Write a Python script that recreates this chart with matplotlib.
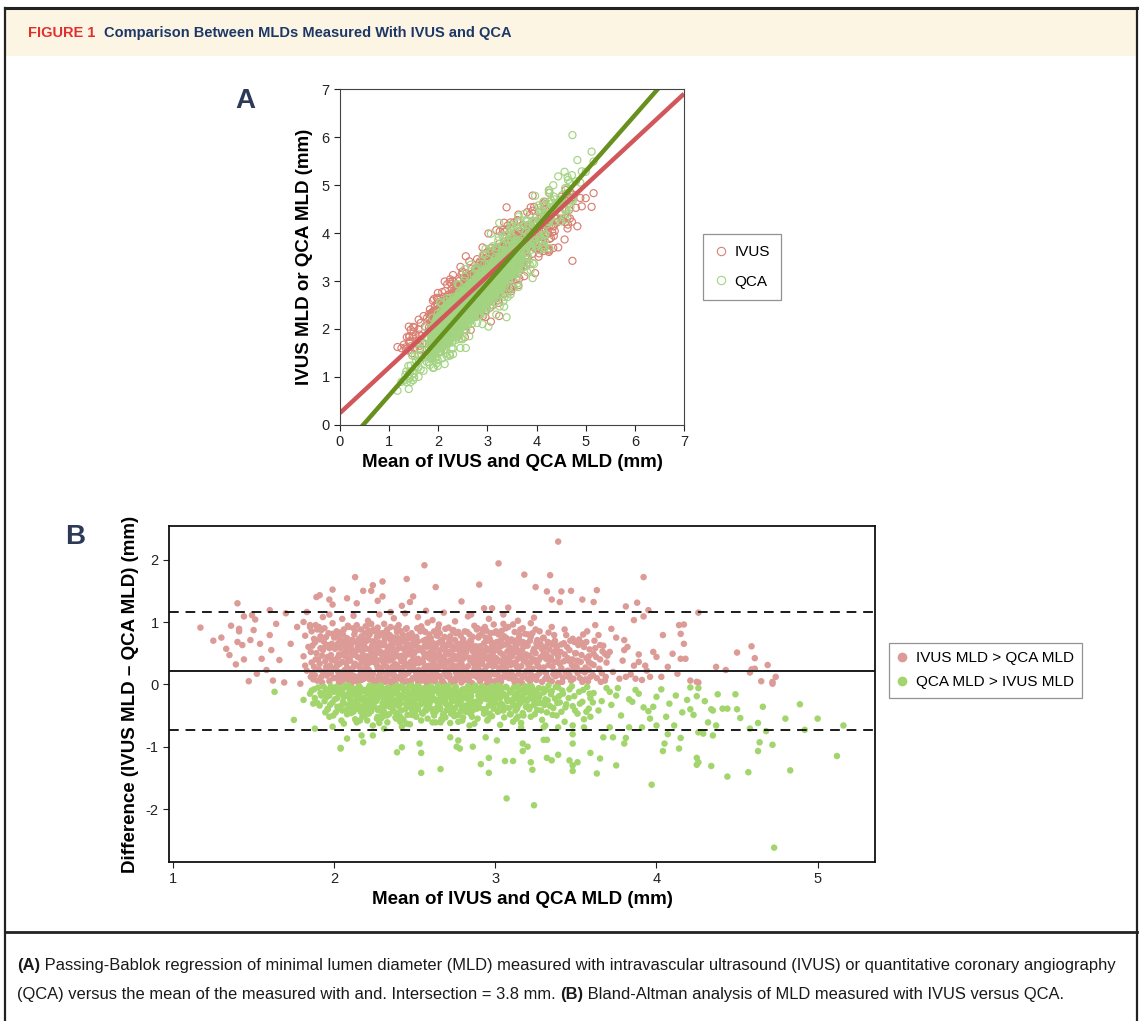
import numpy as np
import matplotlib
matplotlib.use("Agg")
import matplotlib.pyplot as plt
from matplotlib.lines import Line2D
from matplotlib.patches import Rectangle

# Bland-Altman points: "mean diff" pairs (mm)
# IVUS MLD > QCA MLD (diff > 0)
ivus_higher = """
1.81 .45 1.82 .78 1.83 .22 1.84 .60 1.85 .95 1.86 .35 1.87 .08 1.88 .67 1.89 .50 1.82 .30 1.86 .85 1.88 .15
1.90 .40 1.91 .72 1.92 .12 1.93 .55 1.94 .90 1.95 .28 1.96 .63 1.97 .05 1.98 .47 1.99 .81 1.91 .33 1.93 .20
1.95 .76 1.96 .44 1.97 .58 1.98 .18 1.99 .98 1.92 .87
2.00 .25 2.01 .62 2.02 .09 2.03 .48 2.04 .83 2.05 .36 2.06 .70 2.07 .15 2.08 .54 2.09 .92 2.00 .75 2.01 .40
2.02 .31 2.03 .02 2.04 .58 2.05 .19 2.06 .88 2.07 .45 2.08 .27 2.09 .66 2.02 .79 2.04 .12 2.06 .50 2.08 .74 2.09 .06
2.10 .38 2.11 .71 2.12 .14 2.13 .52 2.14 .95 2.15 .29 2.16 .64 2.17 .07 2.18 .46 2.19 .82 2.10 .20 2.11 .55
2.12 .90 2.13 .33 2.14 .68 2.15 .04 2.16 .42 2.17 .77 2.18 .24 2.19 .59 2.11 .10 2.13 .86 2.15 .61 2.17 .35
2.19 .16 2.12 .48 2.16 .27 2.18 .72
2.20 .57 2.21 .13 2.22 .80 2.23 .36 2.24 .69 2.25 .03 2.26 .49 2.27 .91 2.28 .22 2.29 .63 2.20 .30 2.21 .74
2.22 .08 2.23 .52 2.24 .17 2.25 .85 2.26 .40 2.27 .26 2.28 .67 2.29 .11 2.20 .93 2.22 .44 2.24 .60 2.26 .06
2.28 .78 2.21 .33 2.23 .97 2.25 .50 2.27 .58 2.29 .39
2.30 .19 2.31 .66 2.32 .41 2.33 .88 2.34 .05 2.35 .54 2.36 .28 2.37 .75 2.38 .12 2.39 .47 2.30 .82 2.31 .35
2.32 .09 2.33 .60 2.34 .23 2.35 .92 2.36 .45 2.37 .16 2.38 .70 2.39 .31 2.30 .50 2.32 .77 2.34 .38 2.36 .62
2.38 .02 2.31 .97 2.33 .14 2.35 .71 2.37 .43 2.39 .84
2.40 .26 2.41 .59 2.42 .07 2.43 .73 2.44 .34 2.45 .90 2.46 .18 2.47 .51 2.48 .82 2.49 .40 2.40 .64 2.41 .13
2.42 .46 2.43 .03 2.44 .68 2.45 .29 2.46 .79 2.47 .22 2.48 .56 2.49 .10 2.40 .95 2.42 .37 2.44 .15 2.46 .48
2.48 .31 2.41 .86 2.43 .57 2.45 .62 2.47 .74 2.49 .66
2.50 .33 2.51 .76 2.52 .04 2.53 .58 2.54 .21 2.55 .87 2.56 .44 2.57 .12 2.58 .65 2.59 .30 2.50 .52 2.51 .17
2.52 .69 2.53 .38 2.54 .93 2.55 .08 2.56 .61 2.57 .47 2.58 .24 2.59 .80 2.50 .11 2.52 .41 2.54 .55 2.56 .27
2.58 .99 2.51 .62 2.53 .14 2.55 .36 2.57 .72 2.59 .50
2.60 .20 2.61 .53 2.62 .85 2.63 .10 2.64 .42 2.65 .67 2.66 .31 2.67 .06 2.68 .58 2.69 .89 2.60 .74 2.61 .25
2.62 .46 2.63 .61 2.64 .15 2.65 .96 2.66 .39 2.67 .70 2.68 .02 2.69 .34 2.60 .44 2.62 .16 2.64 .78 2.66 .55
2.68 .28 2.61 .09 2.65 .49 2.69 .63
2.70 .13 2.71 .48 2.72 .77 2.73 .26 2.74 .59 2.75 .05 2.76 .40 2.77 .84 2.78 .18 2.79 .66 2.70 .35 2.71 .91
2.72 .09 2.73 .54 2.74 .30 2.75 .71 2.76 .21 2.77 .45 2.78 .60 2.79 .03 2.70 .62 2.72 .38 2.74 .87 2.76 .12
2.78 .50 2.71 .24 2.75 .43 2.79 .33
2.80 .41 2.81 .07 2.82 .65 2.83 .29 2.84 .80 2.85 .17 2.86 .53 2.87 .94 2.88 .36 2.89 .11 2.80 .72 2.81 .46
2.82 .20 2.83 .58 2.84 .04 2.85 .39 2.86 .76 2.87 .25 2.88 .61 2.89 .49 2.81 .85 2.83 .14 2.85 .68 2.87 .32
2.89 .90 2.82 .52
2.90 .23 2.91 .57 2.92 .88 2.93 .10 2.94 .44 2.95 .70 2.96 .31 2.97 .05 2.98 .63 2.99 .37 2.90 .78 2.91 .15
2.92 .49 2.93 .66 2.94 .27 2.95 .02 2.96 .55 2.97 .82 2.98 .19 2.99 .96 2.90 .42 2.92 .33 2.94 .75 2.96 .12
2.98 .46 2.99 .60
3.00 .30 3.01 .68 3.02 .08 3.03 .51 3.04 .86 3.05 .22 3.06 .43 3.07 .74 3.08 .14 3.09 .59 3.00 .05 3.01 .40
3.02 .80 3.03 .26 3.04 .62 3.05 .97 3.06 .18 3.07 .35 3.08 .70 3.09 .47 3.00 .55 3.02 .37 3.04 .11 3.06 .64 3.08 .92
3.10 .20 3.11 .53 3.12 .84 3.13 .07 3.14 .41 3.15 .66 3.16 .29 3.17 .90 3.18 .15 3.19 .48 3.10 .72 3.11 .34
3.12 .03 3.13 .58 3.14 .24 3.15 .79 3.16 .45 3.17 .12 3.18 .63 3.19 .36 3.11 .96 3.13 .30 3.15 .50 3.17 .68
3.20 .09 3.21 .46 3.22 .76 3.23 .25 3.24 .57 3.25 .88 3.26 .14 3.27 .39 3.28 .65 3.29 .04 3.20 .62 3.21 .19
3.22 .35 3.23 .82 3.24 .10 3.25 .50 3.26 .71 3.27 .28 3.28 .43 3.29 .56 3.22 .98 3.26 .33
3.30 .27 3.31 .60 3.32 .12 3.33 .83 3.34 .38 3.35 .05 3.36 .52 3.37 .70 3.38 .20 3.39 .44 3.30 .75 3.31 .09
3.32 .47 3.33 .31 3.34 .66 3.35 .92 3.36 .16 3.37 .36 3.38 .58 3.39 .02
3.40 .33 3.41 .64 3.42 .11 3.43 .48 3.44 .79 3.45 .22 3.46 .55 3.47 .06 3.48 .40 3.49 .68 3.41 .26 3.43 .88
3.45 .42 3.46 .15 3.48 .73 3.49 .30
3.50 .50 3.51 .18 3.52 .72 3.53 .36 3.54 .04 3.55 .60 3.56 .27 3.57 .85 3.58 .45 3.59 .12 3.51 .38 3.54 .66
3.56 .08 3.58 .23
3.61 .31 3.62 .58 3.63 .10 3.64 .79 3.65 .40 3.66 .18 3.67 .62 3.68 .06 3.69 .35 3.62 .95
3.71 .52 3.73 .20 3.75 .75 3.77 .09 3.79 .38 3.82 .60 3.84 .16 3.86 .30 3.89 .48 3.91 .07 3.94 .22 3.96 .12
2.05 1.05 2.12 1.10 2.21 1.02 2.28 1.12 2.37 1.06 2.44 1.14 2.52 1.08 2.61 1.03 2.68 1.15 2.75 1.01
2.83 1.09 2.96 1.05 3.05 1.12 3.14 1.02 3.24 1.07 1.93 1.08 1.97 1.12
1.855 .52 1.865 .18 1.875 .73 1.885 .40 1.895 .06 1.865 .62 1.875 .28 1.895 .88 1.855 .12 1.885 .95
1.905 .24 1.915 .58 1.925 .03 1.935 .69 1.945 .37 1.955 .14 1.965 .82 1.975 .30 1.985 .65 1.995 .10
1.905 .92 1.925 .46 1.945 .61 1.965 .21 1.985 .39 1.915 .77
2.005 .57 2.015 .11 2.025 .66 2.035 .33 2.045 .04 2.055 .80 2.065 .23 2.075 .59 2.085 .42 2.095 .16
2.005 .38 2.015 .85 2.025 .20 2.035 .72 2.045 .47 2.055 .07 2.065 .61 2.075 .34 2.085 .94 2.095 .52
2.025 .44 2.055 .63 2.085 .10 2.015 .29
2.105 .63 2.115 .26 2.125 .80 2.135 .05 2.145 .44 2.155 .73 2.165 .17 2.175 .52 2.185 .09 2.195 .37
2.105 .02 2.115 .47 2.125 .32 2.135 .68 2.145 .12 2.155 .56 2.165 .88 2.175 .21 2.185 .64 2.195 .93
2.115 .71 2.145 .59 2.175 .40 2.195 .13
2.205 .45 2.215 .86 2.225 .19 2.235 .62 2.245 .05 2.255 .35 2.265 .76 2.275 .13 2.285 .53 2.295 .27
2.205 .70 2.215 .23 2.225 .57 2.235 .10 2.245 .41 2.255 .66 2.265 .31 2.275 .83 2.285 .04 2.295 .48
2.215 .40 2.245 .88 2.265 .59 2.285 .18
2.305 .63 2.315 .04 2.325 .28 2.335 .45 2.345 .79 2.355 .16 2.365 .56 2.375 .33 2.385 .90 2.395 .10
2.305 .36 2.315 .73 2.325 .52 2.335 .21 2.345 .61 2.355 .40 2.365 .07 2.375 .67 2.385 .25 2.395 .57
2.325 .86 2.355 .02 2.375 .49 2.395 .74
2.405 .44 2.415 .21 2.425 .80 2.435 .14 2.445 .52 2.455 .05 2.465 .63 2.475 .36 2.485 .09 2.495 .76
2.405 .11 2.415 .68 2.425 .27 2.435 .42 2.445 .89 2.455 .55 2.465 .31 2.475 .02 2.485 .47 2.495 .23
2.415 .39 2.445 .70 2.475 .58 2.495 .49
2.505 .68 2.515 .40 2.525 .23 2.535 .85 2.545 .06 2.555 .51 2.565 .15 2.575 .60 2.585 .43 2.595 .07
2.505 .22 2.515 .90 2.525 .55 2.535 .09 2.545 .37 2.555 .70 2.565 .84 2.575 .29 2.585 .13 2.595 .64
2.525 .34 2.555 .20 2.575 .02 2.595 .41
2.605 .59 2.615 .36 2.625 .05 2.635 .79 2.645 .26 2.655 .13 2.665 .71 2.675 .44 2.685 .19 2.695 .51
2.605 .08 2.615 .66 2.625 .31 2.635 .47 2.645 .90 2.655 .38 2.665 .03 2.675 .60 2.685 .76 2.695 .14
2.625 .57 2.655 .82 2.685 .40
2.705 .52 2.715 .15 2.725 .63 2.735 .40 2.745 .08 2.755 .82 2.765 .29 2.775 .56 2.785 .35 2.795 .12
2.705 .24 2.715 .70 2.725 .03 2.735 .86 2.745 .46 2.755 .19 2.765 .65 2.775 .10 2.785 .78 2.795 .48
2.725 .33 2.755 .57 2.785 .22
2.805 .27 2.815 .60 2.825 .11 2.835 .43 2.845 .70 2.855 .02 2.865 .34 2.875 .55 2.885 .19 2.895 .75
2.805 .53 2.815 .21 2.825 .84 2.835 .08 2.845 .38 2.855 .62 2.865 .14 2.875 .47 2.885 .88 2.895 .30
2.835 .66 2.865 .44
2.905 .61 2.915 .34 2.925 .13 2.935 .52 2.945 .86 2.955 .40 2.965 .07 2.975 .68 2.985 .29 2.995 .16
2.905 .05 2.915 .80 2.925 .41 2.935 .22 2.945 .58 2.955 .17 2.965 .73 2.975 .36 2.985 .50 2.995 .83
2.935 .92 2.965 .45
3.005 .42 3.015 .16 3.025 .60 3.035 .04 3.045 .33 3.055 .77 3.065 .26 3.075 .53 3.085 .10 3.095 .69
3.005 .85 3.015 .56 3.025 .24 3.035 .71 3.045 .48 3.055 .12 3.065 .90 3.075 .20 3.085 .39 3.095 .31
3.035 .38 3.075 .64
3.105 .45 3.115 .13 3.125 .63 3.135 .28 3.145 .74 3.155 .06 3.165 .55 3.175 .38 3.185 .81 3.195 .22
3.105 .09 3.115 .70 3.125 .35 3.135 .51 3.145 .17 3.155 .88 3.165 .02 3.175 .60 3.185 .41 3.195 .66
3.205 .31 3.215 .70 3.225 .15 3.235 .53 3.245 .39 3.255 .07 3.265 .61 3.275 .85 3.285 .23 3.295 .47
3.205 .80 3.215 .05 3.235 .12 3.255 .66 3.275 .18 3.295 .74 3.225 .42 3.265 .29
3.305 .50 3.315 .18 3.325 .68 3.335 .07 3.345 .43 3.355 .28 3.365 .79 3.375 .13 3.385 .62 3.395 .35
3.315 .41 3.335 .56 3.355 .64 3.375 .50 3.395 .16
3.405 .52 3.415 .04 3.425 .37 3.435 .20 3.445 .60 3.455 .12 3.465 .70 3.475 .31 3.485 .09 3.495 .50
3.425 .66 3.455 .38 3.485 .24
3.505 .28 3.515 .63 3.525 .10 3.535 .47 3.545 .80 3.555 .19 3.565 .42 3.575 .05 3.585 .56 3.595 .33
3.535 .22 3.565 .68
3.605 .15 3.625 .44 3.645 .25 3.665 .53 3.685 .12 3.615 .70 3.655 .04 3.695 .46
1.17 .91 1.25 .70 1.30 .75 1.33 .57 1.35 .47 1.36 .94 1.40 1.30 1.39 .32 1.41 .89 1.41 .85 1.40 .68 1.43 .63
1.44 .40 1.47 .05 1.44 1.09 1.48 .71 1.49 1.11 1.51 1.04 1.50 .87 1.52 .17 1.54 .65 1.55 .41 1.58 .23
1.60 1.19 1.60 .79 1.61 .55 1.62 .06 1.64 .97 1.66 .39 1.69 .03 1.70 1.14 1.73 .65 1.77 .92 1.79 .01
1.81 1.00 1.83 1.16 1.85 .92 1.89 1.40 1.91 1.43 1.99 1.52 1.97 1.36 1.99 1.28
2.56 1.91 3.02 1.94 2.13 1.72 2.30 1.65 2.24 1.59 2.45 1.69 2.63 1.56 2.90 1.60 2.18 1.50 2.23 1.50
2.30 1.41 2.49 1.41 2.47 1.32 2.42 1.26 2.79 1.33 2.27 1.34 2.14 1.30 2.08 1.38 2.57 1.18 2.93 1.22
2.98 1.22 2.85 1.12 3.08 1.23 2.35 1.16
3.39 2.29 3.18 1.76 3.34 1.75 3.92 1.72 3.25 1.56 3.32 1.49 3.41 1.49 3.47 1.50 3.63 1.51 3.35 1.36
3.40 1.32 3.54 1.36 3.61 1.32 3.88 1.31 3.81 1.25 3.72 .89 3.95 1.19 3.92 1.09 3.86 1.03 4.14 .95
4.17 .96 4.15 .81 4.17 .65 4.04 .79 3.98 .52 4.00 .44 4.10 .49 4.15 .41 4.18 .41 4.03 .12 4.13 .17
4.07 .28 3.89 .36 3.93 .30 3.81 .12 3.87 .09 3.80 .71 3.80 .55 3.65 .63 3.68 .49 3.61 .49 3.58 .36
4.26 1.15 4.59 .61 4.50 .51 4.61 .42 4.69 .31 4.37 .28 4.43 .23 4.59 .24 4.61 .25 4.58 .19 4.74 .12
4.65 .05 4.72 .01 4.72 .04 4.21 .06 4.25 .04 4.26 .03
"""

# QCA MLD > IVUS MLD (diff < 0)
qca_higher = """
1.86 -.10 1.88 -.22 1.90 -.05 1.91 -.34 1.93 -.15 1.94 -.27
1.95 -.08 1.96 -.40 1.97 -.18 1.98 -.03 1.99 -.29 2.00 -.12 2.01 -.45 2.02 -.22 2.03 -.06 2.04 -.35 1.97 -.52 2.03 -.15
2.05 -.09 2.06 -.31 2.07 -.17 2.08 -.48 2.09 -.02 2.10 -.25 2.11 -.38 2.12 -.11 2.13 -.56 2.14 -.20 2.05 -.42
2.07 -.04 2.09 -.33 2.11 -.14 2.13 -.27 2.14 -.07 2.06 -.63 2.12 -.44
2.15 -.16 2.16 -.05 2.17 -.36 2.18 -.22 2.19 -.50 2.20 -.10 2.21 -.29 2.22 -.02 2.23 -.43 2.24 -.18 2.15 -.33
2.16 -.58 2.17 -.12 2.19 -.26 2.20 -.39 2.21 -.07 2.22 -.21 2.23 -.14 2.24 -.66 2.18 -.46
2.25 -.04 2.26 -.27 2.27 -.41 2.28 -.13 2.29 -.55 2.30 -.20 2.31 -.08 2.32 -.34 2.33 -.17 2.34 -.48 2.25 -.36
2.26 -.10 2.27 -.23 2.28 -.62 2.29 -.02 2.30 -.30 2.31 -.45 2.32 -.15 2.33 -.06 2.34 -.25 2.27 -.52 2.31 -.71
2.35 -.12 2.36 -.38 2.37 -.05 2.38 -.26 2.39 -.46 2.40 -.16 2.41 -.31 2.42 -.03 2.43 -.57 2.44 -.21 2.35 -.29
2.36 -.09 2.37 -.43 2.38 -.14 2.39 -.02 2.40 -.35 2.41 -.60 2.42 -.19 2.43 -.08 2.44 -.40 2.38 -.53 2.42 -.68
2.45 -.07 2.46 -.33 2.47 -.18 2.48 -.49 2.49 -.11 2.50 -.26 2.51 -.04 2.52 -.40 2.53 -.15 2.54 -.58 2.45 -.24
2.46 -.13 2.47 -.37 2.48 -.02 2.49 -.30 2.50 -.45 2.51 -.20 2.52 -.09 2.53 -.33 2.54 -.16 2.47 -.64 2.51 -.52
2.55 -.21 2.56 -.06 2.57 -.42 2.58 -.14 2.59 -.32 2.60 -.03 2.61 -.25 2.62 -.50 2.63 -.10 2.64 -.36 2.55 -.47
2.56 -.28 2.57 -.08 2.58 -.55 2.59 -.18 2.60 -.39 2.61 -.12 2.62 -.23 2.63 -.61 2.64 -.05 2.57 -.30 2.63 -.44
2.65 -.15 2.66 -.40 2.67 -.07 2.68 -.28 2.69 -.53 2.70 -.19 2.71 -.02 2.72 -.34 2.73 -.11 2.74 -.45 2.65 -.31
2.66 -.12 2.67 -.57 2.68 -.04 2.69 -.24 2.70 -.41 2.71 -.16 2.72 -.62 2.73 -.27 2.74 -.09 2.68 -.48 2.72 -.20
2.75 -.05 2.76 -.26 2.77 -.49 2.78 -.13 2.79 -.35 2.80 -.08 2.81 -.22 2.82 -.44 2.83 -.03 2.84 -.30 2.75 -.38
2.76 -.15 2.77 -.60 2.78 -.24 2.79 -.10 2.80 -.53 2.81 -.36 2.82 -.17 2.83 -.41 2.84 -.06
2.85 -.19 2.86 -.42 2.87 -.07 2.88 -.30 2.89 -.55 2.90 -.12 2.91 -.25 2.92 -.03 2.93 -.47 2.94 -.16 2.85 -.33
2.87 -.63 2.88 -.10 2.90 -.37 2.91 -.05 2.92 -.21 2.94 -.40 2.89 -.27
2.95 -.09 2.96 -.34 2.97 -.18 2.98 -.51 2.99 -.04 3.00 -.28 3.01 -.14 3.02 -.43 3.03 -.22 3.04 -.06 2.95 -.58
2.97 -.27 2.99 -.39 3.00 -.11 3.02 -.02 3.03 -.65 3.04 -.32 2.98 -.20
3.05 -.15 3.06 -.37 3.07 -.05 3.08 -.26 3.09 -.48 3.10 -.10 3.11 -.31 3.12 -.19 3.13 -.55 3.14 -.03 3.05 -.42
3.07 -.22 3.09 -.13 3.11 -.60 3.12 -.35 3.14 -.24
3.15 -.08 3.16 -.29 3.17 -.46 3.18 -.12 3.19 -.36 3.20 -.04 3.21 -.22 3.22 -.52 3.23 -.16 3.24 -.33 3.16 -.62
3.18 -.25 3.21 -.40 3.23 -.07
3.25 -.18 3.26 -.41 3.27 -.06 3.28 -.30 3.29 -.57 3.30 -.13 3.31 -.24 3.32 -.45 3.33 -.02 3.34 -.35 3.27 -.21 3.31 -.66
3.35 -.11 3.36 -.38 3.37 -.23 3.38 -.50 3.39 -.05 3.40 -.29 3.41 -.44 3.42 -.15 3.43 -.60 3.44 -.32
3.46 -.08 3.48 -.35 3.49 -.19 3.51 -.47 3.52 -.12 3.54 -.28 3.55 -.56 3.57 -.04 3.58 -.39 3.59 -.22
3.61 -.14 3.64 -.42 3.66 -.27 3.69 -.06 3.72 -.33 3.75 -.18 3.78 -.50 3.83 -.24 3.87 -.09 3.92 -.37
3.71 -.12 3.76 -.06 3.85 -.28 3.89 -.15 3.95 -.43 4.00 -.20 4.03 -.08 4.08 -.31 4.12 -.18 4.16 -.45 4.19 -.25
3.98 -.36 4.06 -.52
1.875 -.08 1.895 -.30 1.915 -.14 1.935 -.04 1.945 -.45 1.955 -.20
1.965 -.11 1.975 -.33 1.985 -.07 1.995 -.50 2.005 -.24 2.015 -.04 2.025 -.38 2.035 -.13 2.045 -.58 2.055 -.28
2.065 -.02 2.075 -.41 2.085 -.19 2.095 -.10
2.105 -.46 2.115 -.06 2.125 -.30 2.135 -.15 2.145 -.39 2.155 -.03 2.165 -.24 2.175 -.52 2.185 -.09 2.195 -.33
2.105 -.18 2.135 -.36 2.165 -.44 2.185 -.27
2.205 -.15 2.215 -.47 2.225 -.09 2.235 -.30 2.245 -.04 2.255 -.22 2.265 -.55 2.275 -.12 2.285 -.38 2.295 -.06
2.205 -.58 2.225 -.34 2.245 -.27 2.265 -.17 2.285 -.02 2.295 -.44
2.305 -.11 2.315 -.27 2.325 -.50 2.335 -.05 2.345 -.36 2.355 -.20 2.365 -.43 2.375 -.14 2.385 -.32 2.395 -.07
2.305 -.40 2.325 -.18 2.345 -.09 2.365 -.28 2.385 -.55 2.395 -.23
2.405 -.05 2.415 -.42 2.425 -.22 2.435 -.11 2.445 -.31 2.455 -.49 2.465 -.03 2.475 -.25 2.485 -.15 2.495 -.38
2.405 -.27 2.425 -.56 2.445 -.09 2.465 -.19 2.485 -.44 2.495 -.06
2.505 -.14 2.515 -.35 2.525 -.03 2.535 -.24 2.545 -.46 2.555 -.10 2.565 -.19 2.575 -.37 2.585 -.05 2.595 -.28
2.505 -.51 2.525 -.16 2.545 -.31 2.565 -.41 2.585 -.22 2.595 -.08
2.605 -.18 2.615 -.45 2.625 -.09 2.635 -.27 2.645 -.02 2.655 -.36 2.665 -.21 2.675 -.49 2.685 -.13 2.695 -.32
2.605 -.06 2.625 -.40 2.645 -.25 2.665 -.56 2.685 -.04 2.695 -.17
2.705 -.08 2.715 -.39 2.725 -.14 2.735 -.26 2.745 -.51 2.755 -.04 2.765 -.31 2.775 -.18 2.785 -.43 2.795 -.09
2.705 -.33 2.725 -.47 2.745 -.21 2.765 -.12 2.785 -.28 2.795 -.58
2.805 -.15 2.815 -.34 2.825 -.06 2.835 -.25 2.845 -.47 2.855 -.11 2.865 -.28 2.875 -.02 2.885 -.39 2.895 -.18
2.805 -.42 2.835 -.09 2.855 -.52 2.875 -.33 2.895 -.07
2.905 -.28 2.915 -.10 2.925 -.40 2.935 -.06 2.945 -.24 2.955 -.16 2.965 -.47 2.975 -.03 2.985 -.35 2.995 -.13
2.925 -.20 2.955 -.56 2.985 -.09
3.005 -.20 3.015 -.44 3.025 -.08 3.035 -.31 3.045 -.15 3.055 -.53 3.065 -.04 3.075 -.27 3.085 -.38 3.095 -.11
3.025 -.34 3.065 -.18 3.095 -.48
3.105 -.25 3.115 -.05 3.125 -.42 3.135 -.14 3.145 -.33 3.155 -.20 3.165 -.09 3.175 -.50 3.185 -.03 3.195 -.27
3.135 -.39 3.175 -.16
3.205 -.13 3.215 -.36 3.225 -.03 3.235 -.25 3.245 -.48 3.255 -.10 3.265 -.30 3.275 -.17 3.285 -.42 3.295 -.07
3.245 -.21
3.305 -.33 3.315 -.09 3.325 -.26 3.345 -.16 3.355 -.49 3.375 -.04 3.385 -.30 3.395 -.19
3.415 -.10 3.435 -.37 3.455 -.22 3.475 -.03 3.495 -.42 3.525 -.31 3.545 -.09 3.565 -.44 3.585 -.15 3.605 -.29
1.63 -.12 1.75 -.57 1.88 -.71 1.99 -.68 2.04 -1.03 1.87 -.31 1.81 -.25 1.85 -.15 1.92 -.18 1.96 -.39 2.02 -.36 2.06 -.20
2.08 -.87 2.18 -.93 2.24 -.82 2.04 -1.02 2.39 -1.09 2.42 -1.01 2.53 -.95 2.54 -1.10 2.54 -1.42 2.66 -1.36
2.77 -.90 2.78 -1.03 2.76 -1.00 2.86 -1.00 2.91 -1.28 2.96 -1.18 2.96 -1.42 3.06 -1.23 3.11 -1.23 3.07 -1.83
2.14 -.61 2.17 -.82 2.33 -.61 2.30 -.52 2.41 -.52 2.45 -.63 2.61 -.61 2.66 -.61 2.72 -.85 2.84 -.66 2.94 -.85 3.01 -.90
3.24 -1.94 3.97 -1.61 3.63 -1.43 3.48 -1.39 3.48 -1.30 3.51 -1.25 3.46 -1.22 3.23 -1.37 3.22 -1.25 3.32 -1.18
3.35 -1.22 3.39 -1.13 3.59 -1.10 3.65 -1.19 3.75 -1.30 3.17 -.95 3.20 -1.00 3.17 -1.07 3.30 -.89 3.32 -.89
3.48 -.80 3.48 -.95 3.67 -.85 3.81 -.86 3.80 -.95 4.05 -.95 4.04 -1.07 4.07 -.80 4.14 -1.03 4.15 -.86
4.11 -.66 4.00 -.66 3.96 -.55 3.91 -.69 3.83 -.69 3.73 -.85 3.71 -.69 3.59 -.52 3.55 -.69 3.48 -.66
3.39 -.69 3.30 -.69 3.14 -.52 3.16 -.69
4.73 -2.62 4.21 -.05 4.26 -.06 4.25 -.19 4.30 -.27 4.38 -.16 4.49 -.16 4.21 -.40 4.34 -.40 4.35 -.42
4.41 -.39 4.44 -.39 4.50 -.40 4.66 -.36 4.89 -.32 4.23 -.49 4.52 -.54 4.32 -.61 4.37 -.66 4.63 -.62
4.80 -.55 5.00 -.55 5.16 -.66 4.58 -.71 4.68 -.75 4.92 -.73 4.26 -.77 4.29 -.79 4.35 -.82 4.64 -.93
4.72 -.97 4.63 -1.07 5.12 -1.15 4.25 -1.18 4.26 -1.25 4.25 -1.29 4.34 -1.31 4.44 -1.48 4.57 -1.41 4.83 -1.38
"""

# Passing-Bablok fits (intercept, slope) and Bland-Altman lines
ivus_fit = (0.25, 0.95)
qca_fit = (-0.548, 1.167)
bias = 0.21
loa_upper = 1.165
loa_lower = -0.74

header_tag = "FIGURE 1"
header_title = "Comparison Between MLDs Measured With IVUS and QCA"
caption_1 = [("(A)", "bold"), (" Passing-Bablok regression of minimal lumen diameter (MLD) measured with intravascular "
             "ultrasound (IVUS) or quantitative coronary angiography", "normal")]
caption_2 = [("(QCA) versus the mean of the measured with and. Intersection = 3.8 mm. ", "normal"), ("(B)", "bold"),
             (" Bland-Altman analysis of MLD measured with IVUS versus QCA.", "normal")]

pos = np.array(ivus_higher.split(), dtype=float).reshape(-1, 2)
neg = np.array(qca_higher.split(), dtype=float).reshape(-1, 2)
all_pts = np.vstack([pos, neg])
mean_mld = all_pts[:, 0]
diff_mld = all_pts[:, 1]
ivus_mld = mean_mld + diff_mld / 2
qca_mld = mean_mld - diff_mld / 2

plt.rcParams["font.family"] = ["Liberation Sans", "DejaVu Sans"]
plt.rcParams["axes.unicode_minus"] = False

W, H = 1142, 1021
fig = plt.figure(figsize=(W / 100, H / 100), dpi=100)


def fx(px):
    return px / W


def fy(py):
    return 1 - py / H


# frame, header band and caption separator
fig.patches.append(Rectangle((fx(5), fy(56)), fx(1132), 46 / H, transform=fig.transFigure,
                             facecolor="#fdf5e4", edgecolor="none", zorder=0))
for xs, ys, lw in [([5, 1137], [8, 8], 2.2), ([5, 5], [8, 1021], 1.6), ([1137, 1137], [8, 1021], 1.6),
                   ([5, 1137], [932, 932], 2.0)]:
    fig.add_artist(Line2D([fx(x) for x in xs], [fy(y) for y in ys], color="#222222", lw=lw))

renderer = fig.canvas.get_renderer()


def rich_line(x, y, parts, **kw):
    for s, w, *c in parts:
        t = fig.text(x, y, s, fontweight=w, va="center", ha="left", **kw)
        if c:
            t.set_color(c[0])
        bb = t.get_window_extent(renderer=renderer)
        x += bb.width / fig.bbox.width
    return x


rich_line(fx(28), fy(33), [(header_tag + "  ", "bold", "#e0302e"), (header_title, "bold", "#1d3867")], fontsize=10.5)
rich_line(fx(17), fy(965), caption_1, fontsize=11.9, color="#1a1a1a")
rich_line(fx(17), fy(995), caption_2, fontsize=11.9, color="#1a1a1a")

# ---------------- panel A ----------------
ivus_c, qca_c = "#d98073", "#a3d482"
axA = fig.add_axes([fx(340), fy(425), fx(684) - fx(340), fy(89) - fy(425)])
axA.scatter(mean_mld, ivus_mld, s=26, facecolors="none", edgecolors=ivus_c, linewidths=0.85)
axA.scatter(mean_mld, qca_mld, s=26, facecolors="none", edgecolors=qca_c, linewidths=0.85)
xx = np.array([0, 7])
axA.plot(xx, ivus_fit[0] + ivus_fit[1] * xx, color="#d2575b", lw=3.2, solid_capstyle="butt")
axA.plot(xx, qca_fit[0] + qca_fit[1] * xx, color="#67901c", lw=3.2, solid_capstyle="butt")
axA.set_xlim(0, 7)
axA.set_ylim(0, 7)
axA.set_xticks(range(8))
axA.set_yticks(range(8))
axA.tick_params(direction="out", length=4, width=0.8, labelsize=10.5, colors="#222222")
for sp in axA.spines.values():
    sp.set_color("#444444")
    sp.set_linewidth(0.8)
axA.set_xlabel("Mean of IVUS and QCA MLD (mm)", fontsize=13.5, fontweight="bold", labelpad=3)
axA.set_ylabel("IVUS MLD or QCA MLD (mm)", fontsize=13.5, fontweight="bold", labelpad=6)
legA = fig.legend(handles=[Line2D([], [], ls="none", marker="o", mfc="none", mec=ivus_c, ms=6, mew=0.8, label="IVUS"),
                           Line2D([], [], ls="none", marker="o", mfc="none", mec=qca_c, ms=6, mew=0.8, label="QCA")],
                  loc="upper left", bbox_to_anchor=(fx(703), fy(234)), fontsize=11, frameon=True, fancybox=False,
                  handlelength=0.8, handletextpad=0.5, labelspacing=1.0, borderpad=0.75, borderaxespad=0)
legA.get_frame().set_edgecolor("#777777")
legA.get_frame().set_linewidth(0.9)
fig.text(fx(245), fy(101), "A", fontsize=20, fontweight="bold", color="#2c3a58", ha="center", va="center")

# ---------------- panel B ----------------
pink, green = "#dc9b96", "#a2d56c"
axB = fig.add_axes([fx(169), fy(862), fx(875) - fx(169), fy(526) - fy(862)])
up = diff_mld > 0
axB.scatter(mean_mld[up], diff_mld[up], s=22, color=pink, edgecolors="none")
axB.scatter(mean_mld[~up], diff_mld[~up], s=22, color=green, edgecolors="none")
axB.axhline(bias, color="#1a1a1a", lw=1.4)
axB.axhline(loa_upper, color="#1a1a1a", lw=1.4, dashes=(5, 3.5))
axB.axhline(loa_lower, color="#1a1a1a", lw=1.4, dashes=(5, 3.5))
axB.set_xlim(0.975, 5.356)
axB.set_ylim(-2.85, 2.54)
axB.set_xticks([1, 2, 3, 4, 5])
axB.set_yticks([-2, -1, 0, 1, 2])
axB.tick_params(direction="out", length=4, width=0.8, labelsize=10.5, colors="#222222")
for sp in axB.spines.values():
    sp.set_color("#111111")
    sp.set_linewidth(1.3)
axB.set_xlabel("Mean of IVUS and QCA MLD (mm)", fontsize=13.5, fontweight="bold", labelpad=3)
axB.set_ylabel("Difference (IVUS MLD \u2013 QCA MLD) (mm)", fontsize=13.5, fontweight="bold", labelpad=5)
legB = fig.legend(handles=[Line2D([], [], ls="none", marker="o", color=pink, ms=6, label="IVUS MLD > QCA MLD"),
                           Line2D([], [], ls="none", marker="o", color=green, ms=6, label="QCA MLD > IVUS MLD")],
                  loc="upper left", bbox_to_anchor=(fx(889), fy(643)), fontsize=11, frameon=True, fancybox=False,
                  handlelength=0.6, handletextpad=0.6, labelspacing=0.65, borderpad=0.55, borderaxespad=0)
legB.get_frame().set_edgecolor("#777777")
legB.get_frame().set_linewidth(0.9)
fig.text(fx(75), fy(537), "B", fontsize=20, fontweight="bold", color="#2c3a58", ha="center", va="center")

fig.savefig("out.png", dpi=100)
